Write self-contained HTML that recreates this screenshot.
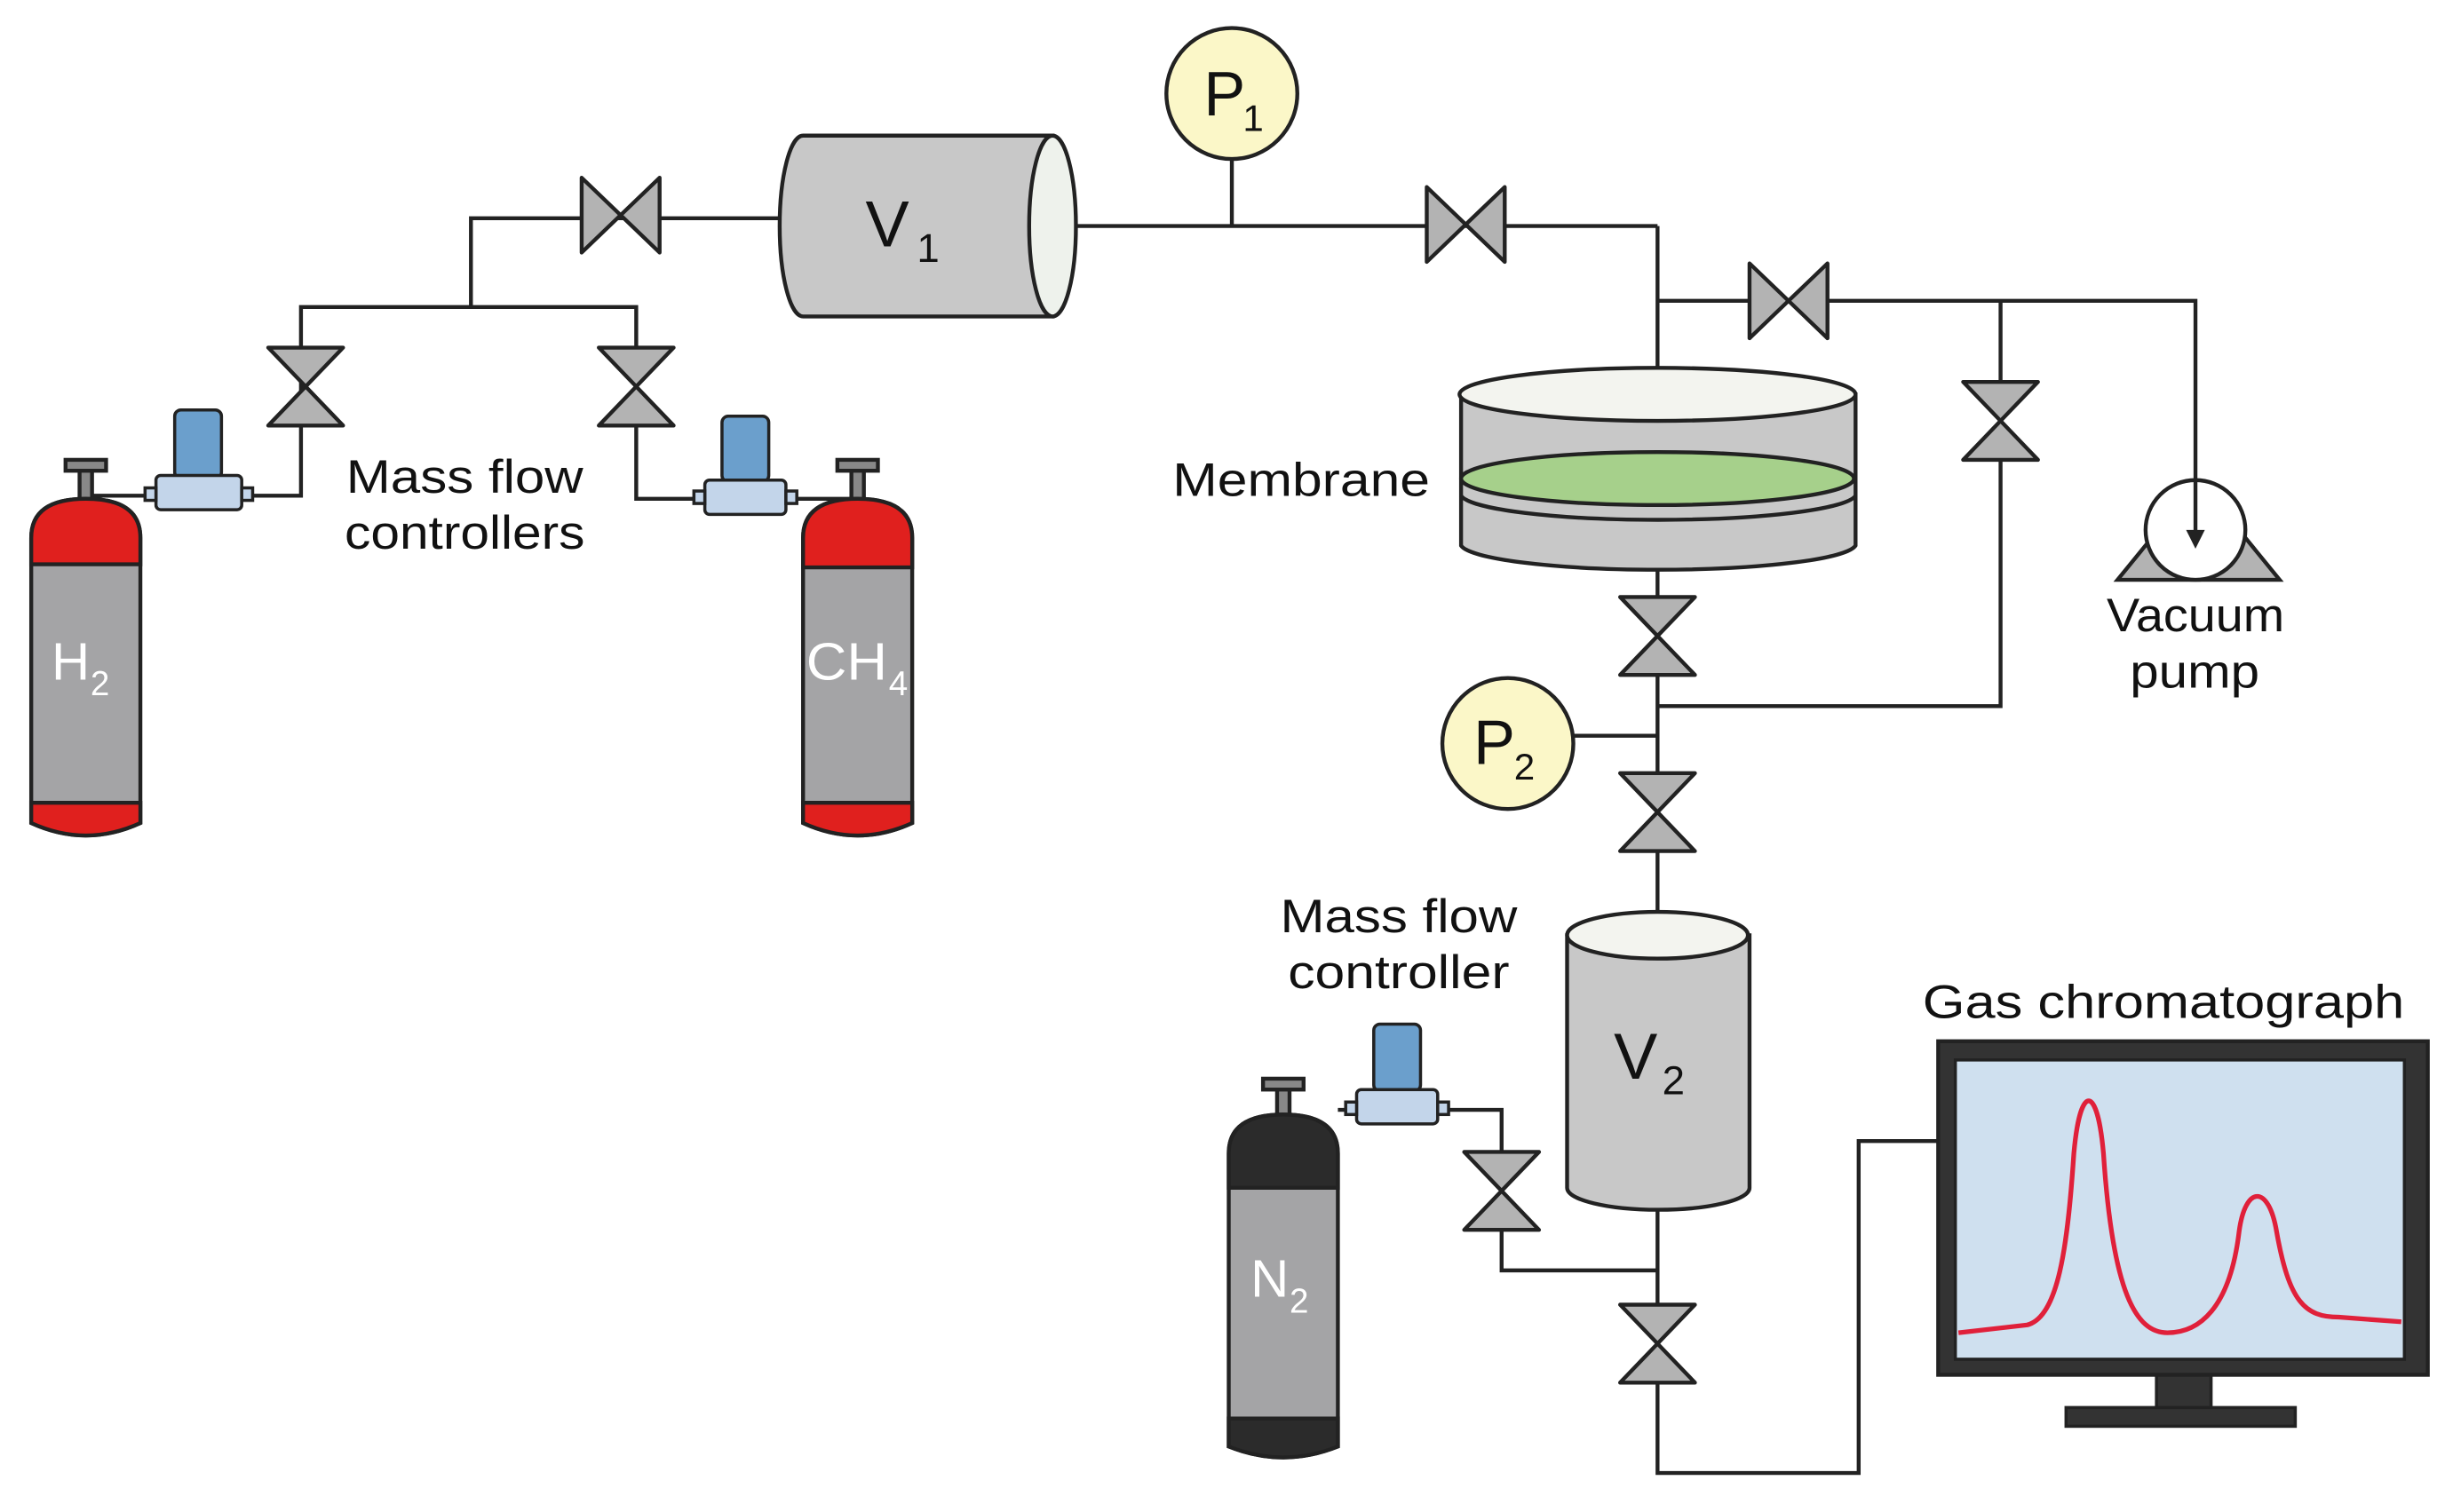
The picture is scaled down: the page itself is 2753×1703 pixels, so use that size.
<!DOCTYPE html>
<html><head><meta charset="utf-8"><style>
html,body{margin:0;padding:0;background:#fff;}
svg{display:block;}
text{font-family:"Liberation Sans",sans-serif;fill:#111;}
</style></head><body>
<svg width="2753" height="1703" viewBox="0 0 1568 970" xmlns="http://www.w3.org/2000/svg">
<defs>
<g id="vv"><polygon points="-24,-25 24,-25 0,0" fill="#b3b3b3" stroke="#222" stroke-width="2.5" stroke-linejoin="round"/><polygon points="-24,25 24,25 0,0" fill="#b3b3b3" stroke="#222" stroke-width="2.5" stroke-linejoin="round"/></g>
<g id="hv"><polygon points="-25,-24 -25,24 0,0" fill="#b3b3b3" stroke="#222" stroke-width="2.5" stroke-linejoin="round"/><polygon points="25,-24 25,24 0,0" fill="#b3b3b3" stroke="#222" stroke-width="2.5" stroke-linejoin="round"/></g>
</defs>
<g fill="none" stroke="#222" stroke-width="2.5">
<polyline points="160,318 193,318 193,197 408,197 408,320 445,320"/>
<polyline points="302,197 302,140 500,140"/>
<line x1="690" y1="145" x2="1063" y2="145"/>
<line x1="790" y1="102" x2="790" y2="145"/>
<polyline points="1063,145 1063,240"/>
<polyline points="1063,193 1408,193 1408,308"/>
<polyline points="1283,193 1283,453 1063,453"/>
<line x1="1063" y1="355" x2="1063" y2="590"/>
<line x1="1008" y1="472" x2="1063" y2="472"/>
<polyline points="1063,775 1063,945 1192,945 1192,732 1243,732"/>
<polyline points="1063,815 963,815 963,712 925,712"/>
<line x1="858" y1="712" x2="868" y2="712"/>
<line x1="55" y1="318" x2="93" y2="318"/>
<line x1="510" y1="320" x2="550" y2="320"/>
</g>
<use href="#vv" x="196" y="248"/>
<use href="#vv" x="408" y="248"/>
<use href="#hv" x="398" y="138"/>
<use href="#hv" x="940" y="144"/>
<use href="#hv" x="1147" y="193"/>
<use href="#vv" x="1283" y="270"/>
<use href="#vv" x="1063" y="408"/>
<use href="#vv" x="1063" y="521"/>
<use href="#vv" x="963" y="764"/>
<use href="#vv" x="1063" y="862"/>
<path d="M515,87 L675,87 L675,203 L515,203 A15,58 0 0 1 515,87 Z" fill="#c8c8c8" stroke="#222" stroke-width="2.5"/>
<ellipse cx="675" cy="145" rx="15" ry="58" fill="#eef2ec" stroke="#222" stroke-width="2.5"/>
<text x="555" y="158" font-size="42">V</text><text x="588" y="168" font-size="26">1</text>
<circle cx="790" cy="60" r="42" fill="#fbf7c8" stroke="#222" stroke-width="2.5"/>
<text x="772" y="74" font-size="40">P</text><text x="797" y="84" font-size="24">1</text>
<circle cx="967" cy="477" r="42" fill="#fbf7c8" stroke="#222" stroke-width="2.5"/>
<text x="945" y="490" font-size="40">P</text><text x="971" y="500" font-size="24">2</text>
<path d="M937,253 L937,350 A127,17 0 0 0 1190,350 L1190,253 Z" fill="#c8c8c8" stroke="#222" stroke-width="2.5"/>
<ellipse cx="1063" cy="307" rx="126" ry="17" fill="#a6d08b" stroke="#222" stroke-width="2.5"/>
<path d="M937,318 A127,17 0 0 0 1190,318" fill="none" stroke="#222" stroke-width="2.5"/>
<ellipse cx="1063" cy="253" rx="127" ry="17" fill="#f3f4ef" stroke="#222" stroke-width="2.5"/>
<text x="752" y="318" font-size="30" textLength="165" lengthAdjust="spacingAndGlyphs">Membrane</text>
<path d="M1005,600 L1005,762 A58,14 0 0 0 1122,762 L1122,600 Z" fill="#c8c8c8" stroke="#222" stroke-width="2.5"/>
<ellipse cx="1063" cy="600" rx="58" ry="15" fill="#f3f4ef" stroke="#222" stroke-width="2.5"/>
<text x="1035" y="692" font-size="42">V</text><text x="1066" y="702" font-size="26">2</text>
<polygon points="1358,372 1462,372 1440,345 1380,345" fill="#b3b3b3" stroke="#222" stroke-width="2.5"/>
<circle cx="1408" cy="340" r="32" fill="#fff" stroke="#222" stroke-width="2.5"/>
<line x1="1408" y1="308" x2="1408" y2="345" stroke="#222" stroke-width="2.5"/>
<polygon points="1402,340 1414,340 1408,352" fill="#222"/>
<text x="1351" y="405" font-size="30" textLength="114" lengthAdjust="spacingAndGlyphs">Vacuum</text>
<text x="1366" y="441" font-size="30" textLength="83" lengthAdjust="spacingAndGlyphs">pump</text>
<text x="222" y="316" font-size="30" textLength="152" lengthAdjust="spacingAndGlyphs">Mass flow</text>
<text x="221" y="352" font-size="30" textLength="154" lengthAdjust="spacingAndGlyphs">controllers</text>
<text x="821" y="598" font-size="30" textLength="152" lengthAdjust="spacingAndGlyphs">Mass flow</text>
<text x="826" y="634" font-size="30" textLength="142" lengthAdjust="spacingAndGlyphs">controller</text>
<text x="1233" y="653" font-size="30" textLength="309" lengthAdjust="spacingAndGlyphs">Gas chromatograph</text>
<g stroke="#222" stroke-width="2">
<rect x="112" y="263" width="30" height="44" rx="4" fill="#6b9fcc"/>
<rect x="100" y="305" width="55" height="22" rx="3" fill="#c3d5ea"/>
<rect x="93" y="313" width="7" height="8" fill="#c3d5ea"/><rect x="155" y="313" width="7" height="8" fill="#c3d5ea"/>
<rect x="463" y="267" width="30" height="42" rx="4" fill="#6b9fcc"/>
<rect x="452" y="308" width="52" height="22" rx="3" fill="#c3d5ea"/>
<rect x="445" y="315" width="7" height="8" fill="#c3d5ea"/><rect x="504" y="315" width="7" height="8" fill="#c3d5ea"/>
<rect x="881" y="657" width="30" height="43" rx="4" fill="#6b9fcc"/>
<rect x="870" y="699" width="52" height="22" rx="3" fill="#c3d5ea"/>
<rect x="863" y="707" width="7" height="8" fill="#c3d5ea"/><rect x="922" y="707" width="7" height="8" fill="#c3d5ea"/>
</g>
<g stroke="#222" stroke-width="2.5">
<rect x="51" y="300" width="8" height="22" fill="#888"/><rect x="42" y="295" width="26" height="7" fill="#888"/>
<path d="M20,345 Q20,320 55,320 Q90,320 90,345 L90,528 Q55,544 20,528 Z" fill="#a4a4a6"/>
<path d="M20,345 Q20,320 55,320 Q90,320 90,345 L90,362 L20,362 Z" fill="#e0201e"/>
<path d="M20,515 L90,515 L90,528 Q55,544 20,528 Z" fill="#e0201e"/>
<rect x="546" y="300" width="8" height="22" fill="#888"/><rect x="537" y="295" width="26" height="7" fill="#888"/>
<path d="M515,345 Q515,320 550,320 Q585,320 585,345 L585,528 Q550,544 515,528 Z" fill="#a4a4a6"/>
<path d="M515,345 Q515,320 550,320 Q585,320 585,345 L585,364 L515,364 Z" fill="#e0201e"/>
<path d="M515,515 L585,515 L585,528 Q550,544 515,528 Z" fill="#e0201e"/>
<rect x="819" y="697" width="8" height="22" fill="#888"/><rect x="810" y="692" width="26" height="7" fill="#888"/>
<path d="M788,740 Q788,715 823,715 Q858,715 858,740 L858,928 Q823,942 788,928 Z" fill="#a4a4a6"/>
<path d="M788,740 Q788,715 823,715 Q858,715 858,740 L858,762 L788,762 Z" fill="#2b2b2b"/>
<path d="M788,910 L858,910 L858,928 Q823,942 788,928 Z" fill="#2b2b2b"/>
</g>
<text x="33" y="436" font-size="34" style="fill:#fff">H</text><text x="58" y="446" font-size="22" style="fill:#fff">2</text>
<text x="517" y="436" font-size="34" style="fill:#fff" textLength="52" lengthAdjust="spacingAndGlyphs">CH</text><text x="570" y="446" font-size="22" style="fill:#fff">4</text>
<text x="802" y="832" font-size="34" style="fill:#fff">N</text><text x="827" y="842" font-size="22" style="fill:#fff">2</text>
<rect x="1383" y="880" width="35" height="25" fill="#333" stroke="#222" stroke-width="2"/>
<rect x="1325" y="903" width="147" height="12" fill="#333" stroke="#222" stroke-width="2"/>
<rect x="1243" y="668" width="314" height="214" fill="#333" stroke="#222" stroke-width="2.5"/>
<rect x="1254" y="680" width="288" height="192" fill="#cfe0ef" stroke="#222" stroke-width="2"/>
<path d="M1256,855 L1300,850 C1320,845 1326,800 1330,740 C1334,695 1345,695 1349,740 C1355,830 1370,855 1390,855 C1410,855 1430,840 1436,790 C1440,760 1455,760 1460,790 C1468,835 1478,845 1500,845 L1540,848" fill="none" stroke="#e0203a" stroke-width="3"/>
</svg>
</body></html>
